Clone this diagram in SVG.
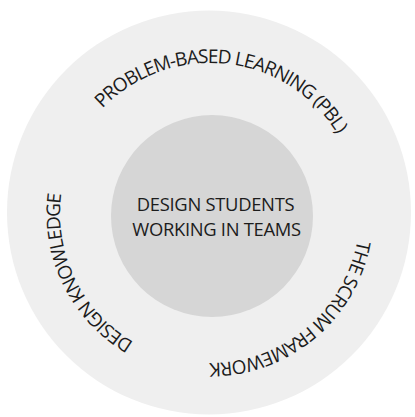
<svg xmlns="http://www.w3.org/2000/svg" xmlns:xlink="http://www.w3.org/1999/xlink" width="415" height="417" viewBox="0 0 415 417">
  <style>
    .lbl { font-family: "Open Sans", "Liberation Sans", sans-serif; fill: #1c1c1c; }
    .ring { font-size: 19px; letter-spacing: -1px; }
    .core { font-size: 18.4px; letter-spacing: -0.3px; }
  </style>
  <defs>
    <path id="arc" d="M 210 363 A 150 150 0 1 1 210 63 A 150 150 0 1 1 210 363"/>
  </defs>
  <rect width="415" height="417" fill="#fff"/>
  <g id="outer-ring">
    <circle cx="209" cy="212.5" r="202" fill="#efefef"/>
    <text class="lbl ring" text-anchor="middle"><textPath href="#arc" xlink:href="#arc" startOffset="167">DESIGN KNOWLEDGE</textPath></text>
    <text class="lbl ring" text-anchor="middle"><textPath href="#arc" xlink:href="#arc" startOffset="487">PROBLEM-BASED LEARNING (PBL)</textPath></text>
    <text class="lbl ring" text-anchor="middle"><textPath href="#arc" xlink:href="#arc" startOffset="838">THE SCRUM FRAMEWORK</textPath></text>
  </g>
  <g id="core">
    <circle cx="212" cy="216" r="101" fill="#d6d6d6"/>
    <text class="lbl core" text-anchor="middle" x="215.5" y="211">DESIGN STUDENTS</text>
    <text class="lbl core" text-anchor="middle" x="216.5" y="236">WORKING IN TEAMS</text>
  </g>
</svg>
